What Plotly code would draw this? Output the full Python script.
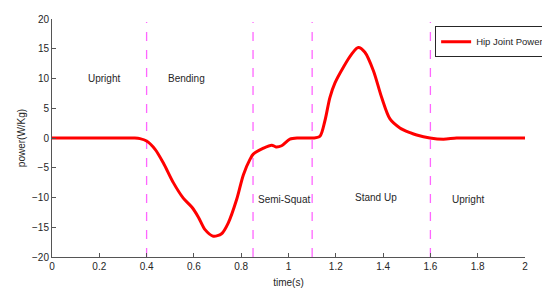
import plotly.graph_objects as go

# hip joint power curve
time_s = [0.0, 0.1, 0.2, 0.3, 0.35, 0.372, 0.40, 0.436, 0.471, 0.513, 0.555, 0.591,
          0.619, 0.647, 0.682, 0.717, 0.745, 0.781, 0.809, 0.837, 0.851, 0.894, 0.929,
          0.947, 0.971, 1.006, 1.04, 1.077, 1.105, 1.133, 1.154, 1.175, 1.197, 1.232,
          1.267, 1.295, 1.323, 1.359, 1.394, 1.429, 1.471, 1.514, 1.542, 1.598, 1.655,
          1.711, 1.8, 1.9, 2.0]
power = [0.0, 0.0, 0.0, 0.0, 0.0, -0.1, -0.5, -1.9, -4.2, -7.5, -10.1, -11.6,
         -13.3, -15.4, -16.5, -16.1, -14.3, -10.3, -6.2, -3.6, -2.7, -1.7, -1.2,
         -1.5, -1.3, -0.2, 0.0, 0.0, 0.0, 0.3, 2.9, 6.8, 9.3, 11.9,
         14.1, 15.2, 14.4, 11.3, 6.8, 3.2, 1.7, 0.9, 0.5, 0.0, -0.2,
         0.0, 0.0, 0.0, 0.0]

phase_lines = [0.4, 0.85, 1.1, 1.6]
phase_names = ["Upright", "Bending", "Semi-Squat", "Stand Up", "Upright"]
phase_x = [0.22, 0.57, 0.98, 1.37, 1.76]
phase_y = [10, 10, -10.3, -10, -10.3]

fig = go.Figure()

for xl in phase_lines:
    fig.add_trace(go.Scatter(
        x=[xl, xl], y=[-20, 19.5], mode='lines',
        line=dict(color='#ff66ff', width=1.3, dash='dash'),
        showlegend=False, hoverinfo='skip'))

fig.add_trace(go.Scatter(
    x=time_s, y=power, mode='lines', name='Hip Joint Power',
    line=dict(color='#ff0000', width=3, shape='spline', smoothing=0.8)))

for name, xa, ya in zip(phase_names, phase_x, phase_y):
    fig.add_annotation(x=xa, y=ya, text=name, showarrow=False,
                       font=dict(size=10, color='#262626'))

axis_style = dict(
    showgrid=False, zeroline=False, showline=True, linecolor='#555555',
    linewidth=1, ticks='inside', ticklen=4, tickcolor='#555555',
    tickfont=dict(size=10, color='#262626'), mirror=False, automargin=False,
)

# page has an 8px body margin, so the figure is a bit smaller than the window
fig.update_layout(
    width=542, height=287,
    margin=dict(l=44, r=25, t=11, b=38, autoexpand=False),
    paper_bgcolor='white', plot_bgcolor='white',
    font=dict(family='Liberation Sans, Arial, sans-serif', color='#262626'),
    xaxis=dict(range=[0, 2], tickvals=[0, 0.2, 0.4, 0.6, 0.8, 1, 1.2, 1.4, 1.6, 1.8, 2],
               title=dict(text='time(s)', font=dict(size=10), standoff=7), **axis_style),
    yaxis=dict(range=[-20, 20], tickvals=[-20, -15, -10, -5, 0, 5, 10, 15, 20],
               title=dict(text='power(W/Kg)', font=dict(size=10), standoff=4), **axis_style),
    legend=dict(x=0.81, y=0.97, xanchor='left', yanchor='top',
                bgcolor='white', bordercolor='#262626', borderwidth=1,
                font=dict(size=9.5, color='#262626'),
                itemwidth=30, tracegroupgap=0),
    showlegend=True,
)

fig.write_html("out.html")
